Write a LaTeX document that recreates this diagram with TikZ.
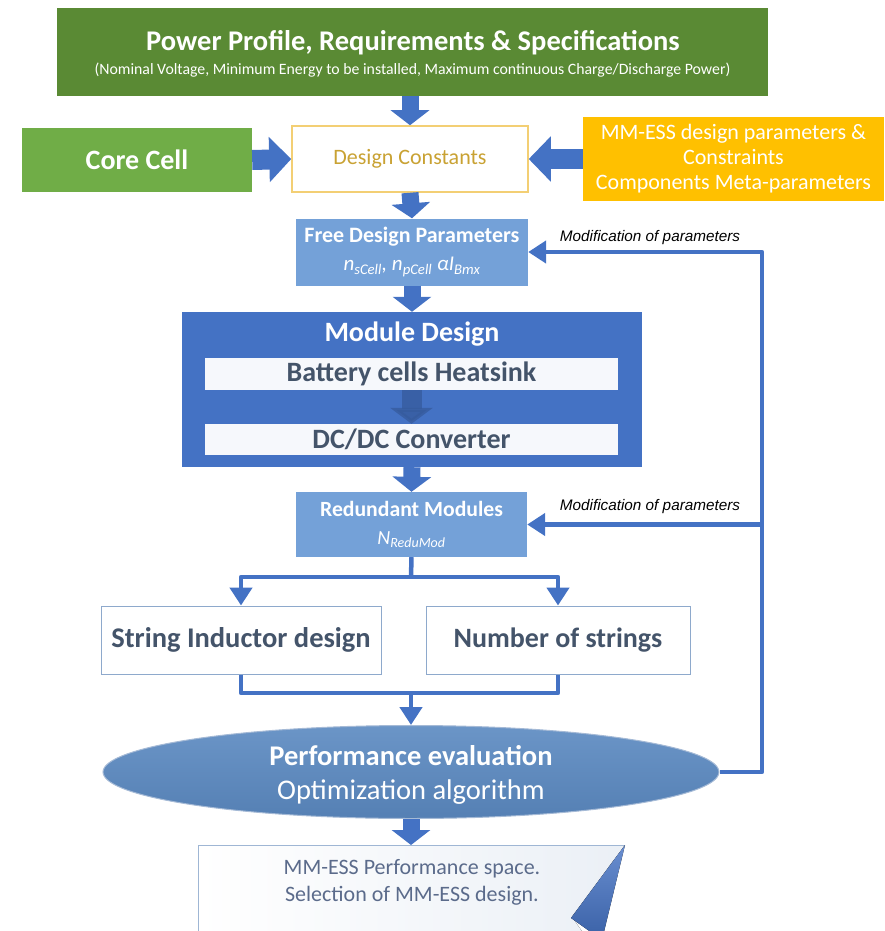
\documentclass[tikz,border=0pt]{standalone}
\usepackage{fontspec}
\setmainfont{Carlito}
\newfontfamily\notefont{Liberation Sans}
\usetikzlibrary{arrows.meta,shapes.geometric,calc}

\definecolor{specgreen}{HTML}{5A8A34}
\definecolor{cellgreen}{HTML}{70AD47}
\definecolor{paramorange}{HTML}{FFC000}
\definecolor{constgold}{HTML}{F3CF74}
\definecolor{consttext}{HTML}{C9A233}
\definecolor{paleblue}{HTML}{74A1D8}
\definecolor{modblue}{HTML}{4472C4}
\definecolor{linkblue}{HTML}{4472C4}
\definecolor{slatetext}{HTML}{44546A}
\definecolor{frameblue}{HTML}{8EA9CC}
\definecolor{ovaltop}{HTML}{6B95C7}
\definecolor{ovalbot}{HTML}{5580B4}
\definecolor{resulttext}{HTML}{5B6B8B}

\begin{document}
\begin{tikzpicture}[x=1pt,y=-1pt,
  box/.style={rectangle, inner sep=0pt, align=center},
  blockarrow/.style={draw=linkblue, line width=17pt, -{Triangle[length=15pt,width=38pt]}},
  sidearrow/.style={draw=linkblue, line width=20pt, -{Triangle[length=22pt,width=44pt]}},
  link/.style={draw=linkblue, line width=4.5pt, line join=round},
  linktip/.style={-{Triangle[length=18pt,width=22pt]}},
  whitebold/.style={text=white, font=\bfseries},
  notelabel/.style={font=\notefont\itshape\fontsize{15.3}{17}\selectfont, text=black}
]
\useasboundingbox (0,0) rectangle (884,931);
\clip (0,0) rectangle (884,931);

% top specification block
\node[box, fill=specgreen, minimum width=711pt, minimum height=88pt] (spec) at (412.5,52) {};
\node[text=white, font=\bfseries\fontsize{28.5}{32}\selectfont] (spectitle) at (413,43)
  {Power Profile, Requirements \& Specifications};
\node[text=white, font=\fontsize{15.8}{18}\selectfont] (specsub) at (412.5,70)
  {(Nominal Voltage, Minimum Energy to be installed, Maximum continuous Charge/Discharge Power)};

% second row
\node[box, fill=cellgreen, minimum width=230pt, minimum height=64pt,
      whitebold, font=\bfseries\fontsize{28}{32}\selectfont] (core) at (137,160) {Core Cell};
\node[box, fill=white, draw=constgold, line width=1.5pt, minimum width=236pt, minimum height=66pt,
      text=consttext, font=\fontsize{22}{26}\selectfont] (dconst) at (410,159) {Design Constants};
\node[box, fill=paramorange, minimum width=301pt, minimum height=84pt,
      text=white, font=\fontsize{22}{25}\selectfont] (mmess) at (733.5,159)
  {MM-ESS design parameters \&\\Constraints\\Components Meta-parameters};

% free design parameters
\node[box, fill=paleblue, minimum width=232pt, minimum height=67pt, text=white,
      font=\fontsize{22}{28}\selectfont] (free) at (412,252)
  {\textbf{Free Design Parameters}\\{\itshape\fontsize{21}{24}\selectfont n\textsubscript{sCell}, n\textsubscript{pCell} αI\textsubscript{Bmx}}};

% module design
\node[box, fill=modblue, minimum width=460pt, minimum height=155pt] (module) at (412,389.5) {};
\node[whitebold, font=\bfseries\fontsize{28}{32}\selectfont] (moduletitle) at (412,334) {Module Design};
\node[box, fill=white!95!modblue, minimum width=413pt, minimum height=32pt, text=slatetext,
      font=\bfseries\fontsize{28}{32}\selectfont] (battery) at (411.5,374) {Battery cells Heatsink};
\node[box, fill=white!95!modblue, minimum width=413pt, minimum height=31pt, text=slatetext,
      font=\bfseries\fontsize{28}{32}\selectfont] (dcdc) at (411.5,439.5) {DC/DC Converter};

% redundant modules
\node[box, fill=paleblue, minimum width=231pt, minimum height=65pt, text=white,
      font=\fontsize{21.7}{28}\selectfont] (redund) at (411.5,524.5)
  {\textbf{Redundant Modules}\\{\itshape\fontsize{20}{23}\selectfont N\textsubscript{ReduMod}}};

% string level
\node[box, fill=white, draw=frameblue, line width=1pt, minimum width=280pt, minimum height=68pt,
      text=slatetext, font=\bfseries\fontsize{28.5}{32}\selectfont] (sind) at (241,640) {String Inductor design};
\node[box, fill=white, draw=frameblue, line width=1pt, minimum width=264pt, minimum height=68pt,
      text=slatetext, font=\bfseries\fontsize{28}{32}\selectfont] (nstr) at (558,640) {Number of strings};

% performance evaluation
\node[ellipse, inner sep=0pt, minimum width=616pt, minimum height=93pt, top color=ovaltop,
      bottom color=ovalbot, draw=frameblue!80!white, line width=1pt, text=white, align=center,
      font=\fontsize{28.5}{34}\selectfont] (perf) at (411,772) {};
\node[text=white, align=center, font=\fontsize{28.5}{34}\selectfont] (perftext) at (411,775)
  {\textbf{Performance evaluation}\\Optimization algorithm};

% result sheet with curled corner
\fill[left color=white, right color=white!82!frameblue]
  (198,845) -- (625,845) -- (572,917) -- (588,940) -- (198,940) -- cycle;
\draw[frameblue!85!white, line width=1pt] (198,940) -- (198,845) -- (625,845);
\fill[top color=modblue!80!white, bottom color=modblue!85!black]
  (625,845) -- (571,918) -- (602,940) -- cycle;
\node[text=resulttext, align=center, font=\fontsize{22}{27}\selectfont] (result) at (412,882)
  {MM-ESS Performance space.\\Selection of MM-ESS design.};
\coordinate (restop) at (411,845);

% block arrows between stages
\draw[blockarrow] (spec.south -| dconst.north) -- (dconst.north);
\draw[sidearrow] (core.east) -- (dconst.west);
\draw[sidearrow] (mmess.west) -- (dconst.east);
\draw[blockarrow] (dconst.south) -- (free.north);
\draw[blockarrow] (free.south) -- (module.north);
\draw[draw=modblue!80!black, opacity=0.75, line width=20pt, -{Triangle[length=16pt,width=42pt]}]
  (battery.south) -- (dcdc.north);
\draw[blockarrow] (module.south) -- (redund.north);
\draw[blockarrow] (perf.south) -- (restop);

% split towards the string level
\coordinate (splitpt) at (411,577);
\draw[link] (redund.south) -- (splitpt);
\draw[link, linktip] (splitpt) -| (sind.north);
\draw[link, linktip] (splitpt) -| (nstr.north);

% merge towards performance evaluation
\coordinate (mergept) at (411,693);
\draw[link] (sind.south) |- (mergept) -| (nstr.south);
\draw[link, linktip] (mergept) -- (perf.north);

% feedback loop
\coordinate (loopcorner) at (762,772);
\draw[link, linktip] (perf.east) -- (loopcorner) |- (free.east);
\draw[link, linktip] (loopcorner |- redund.east) -- (redund.east);
\node[notelabel] (modtop) at (650,238) {Modification of parameters};
\node[notelabel] (modbot) at (650,507) {Modification of parameters};
\end{tikzpicture}
\end{document}
